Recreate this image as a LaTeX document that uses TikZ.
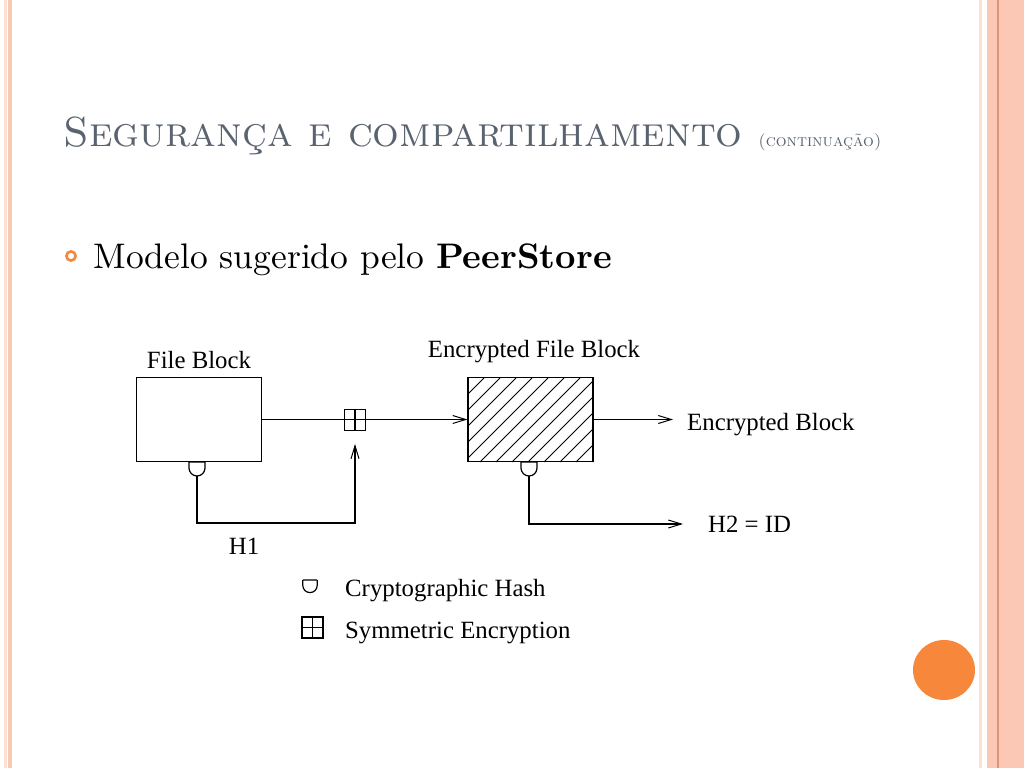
\documentclass[tikz,border=0pt]{standalone}
\usepackage{fontspec}
\newfontfamily\diagfont{Liberation Serif}
\usetikzlibrary{arrows.meta}
\definecolor{titlegray}{RGB}{90,99,112}
\definecolor{accent}{RGB}{247,135,58}
\definecolor{stripe}{RGB}{251,200,182}
\definecolor{stripelight}{RGB}{253,224,210}
\definecolor{stripedark}{RGB}{222,150,118}
\tikzset{
  hashcup/.pic={
    \draw[line width=1.2pt] (-8,0) -- (8,0) (-8,0) -- (-8,6) arc[start angle=180,end angle=0,radius=8] -- (8,0);
  }
}

\begin{document}
\begin{tikzpicture}[x=1pt,y=-1pt,
    blk/.style={draw,line width=1.2pt,minimum width=125pt,minimum height=84pt,inner sep=0},
    encsq/.style={draw,line width=1.1pt,minimum size=21pt,inner sep=0},
    lbl/.style={font=\diagfont\fontsize{24.8}{28}\selectfont,inner sep=0},
    big/.style={anchor=base west,inner sep=0,font=\fontsize{10}{12}\selectfont,transform shape},
    conn/.style={line width=1.1pt,-{Straight Barb[length=13pt,width=8pt,line width=1pt]}}]
                % page and side stripes
                \fill[white] (0,0) rectangle (1024,768);
                \fill[stripelight] (4,0) rectangle (6.5,768);
                \fill[stripe] (8,0) rectangle (11.5,768);
                \fill[stripelight] (978.5,0) rectangle (982,768);
                \fill[stripe] (987,0) rectangle (1024,768);
                \fill[stripedark] (997.3,0) rectangle (998.7,768);
                \fill[accent] (944,670) ellipse (31 and 30);
                % title and bullet
                \node[big,scale=4.2,text=titlegray] (title) at (63,146) {\scshape Segurança e compartilhamento};
                \node[big,scale=1.7,text=titlegray] (titlecont) at (758,146) {\scshape (continuação)};
                \draw[accent,line width=2.6pt] (71,256) circle (4.6);
                \node[big,scale=3.55] (item) at (93,268) {Modelo sugerido pelo \textbf{PeerStore}};
                % blocks
                \node[blk] (fb) at (199,419.5) {};
                \node[blk] (eb) at (530.5,419.5) {};
                \begin{scope}
                    \clip (eb.south west) rectangle (eb.north east);
                    \foreach \t in {1,...,13}
                        \draw[line width=0.8pt] (468+16*\t,378) -- (384+16*\t,462);
                \end{scope}
                \node[blk] at (eb) {};
                \node[lbl,anchor=base] (fblabel) at (199,368) {File Block};
                \node[lbl,anchor=base] (eblabel) at (534,357) {Encrypted File Block};
                % encryption
                \node[encsq] (enc) at (355,420) {};
                \draw[line width=1.1pt] (enc.north) -- (enc.south);
                \draw[conn] (fb.east) -- (eb.west);
                % hashes
                \pic at (197,462) {hashcup};
                \coordinate (h1) at (197,476);
                \pic at (529,462) {hashcup};
                \coordinate (h2) at (529,476);
                \node[lbl,anchor=base west] (eout) at (687,430) {Encrypted Block};
                \node[lbl,anchor=base west] (idout) at (708,532) {H2 = ID};
                \node[lbl,anchor=base] (h1label) at (244,554) {H1};
                \draw[conn,shorten >=13pt] (h1) |- (enc.south |- 0,523) -- (enc.south);
                \draw[conn,shorten >=14pt] (eb.east) -- (eout.west |- eb.east);
                \draw[conn,shorten >=25pt] (h2) |- (idout.west |- 0,524);
                % legend
                \pic[scale=0.9] at (310,580) {hashcup};
                \node[encsq] (legenc) at (312.5,627.5) {};
                \draw[line width=1.1pt] (legenc.north) -- (legenc.south) (legenc.west) -- (legenc.east);
                \node[lbl,anchor=base west] (leghash) at (345,596) {Cryptographic Hash};
                \node[lbl,anchor=base west] (legsym) at (345,638) {Symmetric Encryption};
\end{tikzpicture}
\end{document}
